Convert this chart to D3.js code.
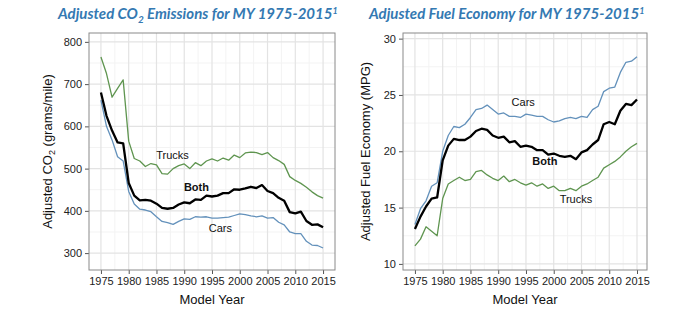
<!DOCTYPE html>
<html>
<head>
<meta charset="utf-8">
<script src="https://cdn.jsdelivr.net/npm/d3@7"></script>
<style>
  body { margin: 0; background: #fff; }
  text { font-family: "Liberation Sans", Arial, sans-serif; }
  .title { font-family: Lato, "Open Sans", sans-serif; font-weight: bold; font-style: italic; fill: #3479b2; }
</style>
</head>
<body>
<div id="chart"></div>
<script>
// model years
var years = d3.range(1975, 2016);

// adjusted CO2 (grams/mile)
var co2Trucks = [764, 725, 669, 690, 710, 565, 524, 518, 505, 512, 509, 488, 487, 500, 507, 511, 500, 514, 507, 518,
                 523, 518, 525, 520, 532, 526, 537, 539, 538, 533, 538, 526, 519, 510, 481, 472, 465, 456, 445, 436, 430];
var co2Both   = [680, 625, 590, 562, 560, 466, 436, 425, 426, 424, 417, 407, 405, 407, 415, 420, 418, 427, 426, 436,
                 434, 436, 442, 442, 451, 450, 453, 457, 454, 461, 447, 442, 431, 424, 397, 394, 398, 376, 367, 368, 361];
var co2Cars   = [662, 600, 568, 528, 518, 446, 416, 404, 402, 398, 386, 375, 372, 368, 375, 381, 380, 386, 385, 386,
                 383, 383, 384, 385, 389, 393, 391, 388, 386, 388, 383, 384, 373, 367, 350, 346, 346, 328, 319, 318, 312];

// adjusted fuel economy (MPG)
var mpgCars   = [13.5, 14.9, 15.6, 16.9, 17.2, 20.0, 21.4, 22.2, 22.1, 22.4, 23.0, 23.7, 23.8, 24.1, 23.7, 23.3, 23.4, 23.1, 23.1, 23.0,
                 23.3, 23.2, 23.1, 23.1, 22.8, 22.6, 22.7, 22.9, 23.0, 22.9, 23.1, 23.0, 23.7, 24.0, 25.3, 25.6, 25.7, 27.0, 27.9, 28.0, 28.4];
var mpgBoth   = [13.1, 14.2, 15.1, 15.8, 15.9, 19.2, 20.5, 21.1, 21.0, 21.0, 21.3, 21.8, 22.0, 21.9, 21.4, 21.2, 21.3, 20.8, 20.9, 20.4,
                 20.5, 20.4, 20.1, 20.1, 19.7, 19.8, 19.6, 19.5, 19.6, 19.3, 19.9, 20.1, 20.6, 21.0, 22.4, 22.6, 22.4, 23.6, 24.2, 24.1, 24.6];
var mpgTrucks = [11.6, 12.2, 13.3, 12.9, 12.5, 15.8, 17.1, 17.4, 17.7, 17.4, 17.5, 18.2, 18.3, 17.9, 17.6, 17.4, 17.8, 17.3, 17.5, 17.2,
                 17.0, 17.2, 16.9, 17.1, 16.7, 16.9, 16.5, 16.5, 16.7, 16.5, 16.9, 17.1, 17.4, 17.7, 18.5, 18.8, 19.1, 19.5, 20.0, 20.4, 20.7];

var xTicks = d3.range(1975, 2016, 5);
var co2Ticks = [300, 400, 500, 600, 700, 800];
var mpgTicks = [10, 15, 20, 25, 30];

var colors = { Trucks: "#5f9550", Both: "#000000", Cars: "#6391bb" };

var svg = d3.select("#chart").append("svg")
  .attr("width", 696)
  .attr("height", 314);

function panel(opt) {
  var g = svg.append("g");
  var x = d3.scaleLinear().domain(opt.xDomain).range([opt.left, opt.right]);
  var y = d3.scaleLinear().domain(opt.yDomain).range([opt.bottom, opt.top]);

  // minor + major grid
  var minorX = xTicks.slice(0, -1).map(function(d) { return d + 2.5; });
  var minorY = opt.yTicks.slice(0, -1).map(function(d, i) { return (d + opt.yTicks[i + 1]) / 2; });
  g.selectAll(".mgx").data(minorX).enter().append("line")
    .attr("x1", x).attr("x2", x).attr("y1", opt.top).attr("y2", opt.bottom)
    .attr("stroke", "#f3f3f3").attr("stroke-width", 1);
  g.selectAll(".mgy").data(minorY).enter().append("line")
    .attr("x1", opt.left).attr("x2", opt.right).attr("y1", y).attr("y2", y)
    .attr("stroke", "#f3f3f3").attr("stroke-width", 1);
  g.selectAll(".gx").data(xTicks).enter().append("line")
    .attr("x1", x).attr("x2", x).attr("y1", opt.top).attr("y2", opt.bottom)
    .attr("stroke", "#e3e3e3").attr("stroke-width", 1.2);
  g.selectAll(".gy").data(opt.yTicks).enter().append("line")
    .attr("x1", opt.left).attr("x2", opt.right).attr("y1", y).attr("y2", y)
    .attr("stroke", "#e3e3e3").attr("stroke-width", 1.2);

  // axes
  var xAxis = g.append("g")
    .attr("transform", "translate(0," + opt.bottom + ")")
    .call(d3.axisBottom(x).tickValues(xTicks).tickFormat(d3.format("d")).tickSize(4).tickPadding(3));
  var yAxis = g.append("g")
    .attr("transform", "translate(" + opt.left + ",0)")
    .call(d3.axisLeft(y).tickValues(opt.yTicks).tickSize(4).tickPadding(3));
  [xAxis, yAxis].forEach(function(a) {
    a.select(".domain").remove();
    a.selectAll("line").attr("stroke", "#555");
    a.selectAll("text").attr("fill", "#222").style("font-size", "11px")
      .style("font-family", "'Liberation Sans', Arial, sans-serif");
  });

  // panel border
  g.append("rect")
    .attr("x", opt.left).attr("y", opt.top)
    .attr("width", opt.right - opt.left).attr("height", opt.bottom - opt.top)
    .attr("fill", "none").attr("stroke", "#8a8a8a").attr("stroke-width", 1);

  // lines
  var line = d3.line()
    .x(function(d, i) { return x(years[i]); })
    .y(function(d) { return y(d); });
  opt.series.forEach(function(s) {
    g.append("path")
      .datum(s.values)
      .attr("fill", "none")
      .attr("stroke", colors[s.name])
      .attr("stroke-width", s.name === "Both" ? 2.3 : 1.3)
      .attr("stroke-linejoin", "round")
      .attr("d", line);
  });

  // series labels
  opt.labels.forEach(function(l) {
    g.append("text")
      .attr("x", x(l.x)).attr("y", y(l.y))
      .attr("text-anchor", "middle")
      .style("font-size", "11px")
      .style("font-weight", l.name === "Both" ? "bold" : "normal")
      .attr("fill", "#111")
      .text(l.name);
  });

  // axis titles
  g.append("text")
    .attr("x", (opt.left + opt.right) / 2).attr("y", 304)
    .attr("text-anchor", "middle")
    .style("font-size", "13px").attr("fill", "#111")
    .text("Model Year");

  var yt = g.append("text")
    .attr("transform", "translate(" + opt.yTitleX + "," + ((opt.top + opt.bottom) / 2) + ")rotate(-90)")
    .attr("text-anchor", "middle")
    .style("font-size", "13px").attr("fill", "#111");
  opt.yTitle(yt);

  // chart title
  var t = svg.append("text")
    .attr("class", "title")
    .attr("x", opt.titleX).attr("y", 19)
    .style("font-size", "15px");
  opt.title(t);
}

panel({
  left: 89, right: 335, top: 33, bottom: 270,
  xDomain: [1972.85, 2017.15], yDomain: [260, 821],
  yTicks: co2Ticks,
  series: [
    { name: "Trucks", values: co2Trucks },
    { name: "Cars", values: co2Cars },
    { name: "Both", values: co2Both }
  ],
  labels: [
    { name: "Trucks", x: 1987.9, y: 523 },
    { name: "Both", x: 1992.2, y: 447 },
    { name: "Cars", x: 1996.5, y: 350 }
  ],
  yTitleX: 52,
  yTitle: function(t) {
    t.append("tspan").text("Adjusted CO");
    t.append("tspan").attr("dy", 3).style("font-size", "9px").text("2");
    t.append("tspan").attr("dy", -3).text(" (grams/mile)");
  },
  titleX: 58,
  title: function(t) {
    t.append("tspan").text("Adjusted CO");
    t.append("tspan").attr("dy", 4).style("font-size", "10px").text("2");
    t.append("tspan").attr("dy", -4).text(" Emissions for MY 1975-2015");
    t.append("tspan").attr("dy", -5).style("font-size", "9px").text("1");
  }
});

panel({
  left: 403, right: 647, top: 33, bottom: 270,
  xDomain: [1972.85, 2016.8], yDomain: [9.46, 30.5],
  yTicks: mpgTicks,
  series: [
    { name: "Trucks", values: mpgTrucks },
    { name: "Cars", values: mpgCars },
    { name: "Both", values: mpgBoth }
  ],
  labels: [
    { name: "Cars", x: 1994.5, y: 24.0 },
    { name: "Both", x: 1998.4, y: 18.75 },
    { name: "Trucks", x: 2004, y: 15.45 }
  ],
  yTitleX: 370,
  yTitle: function(t) {
    t.text("Adjusted Fuel Economy (MPG)");
  },
  titleX: 369,
  title: function(t) {
    t.append("tspan").text("Adjusted Fuel Economy for MY 1975-2015");
    t.append("tspan").attr("dy", -5).style("font-size", "9px").text("1");
  }
});
</script>
</body>
</html>
